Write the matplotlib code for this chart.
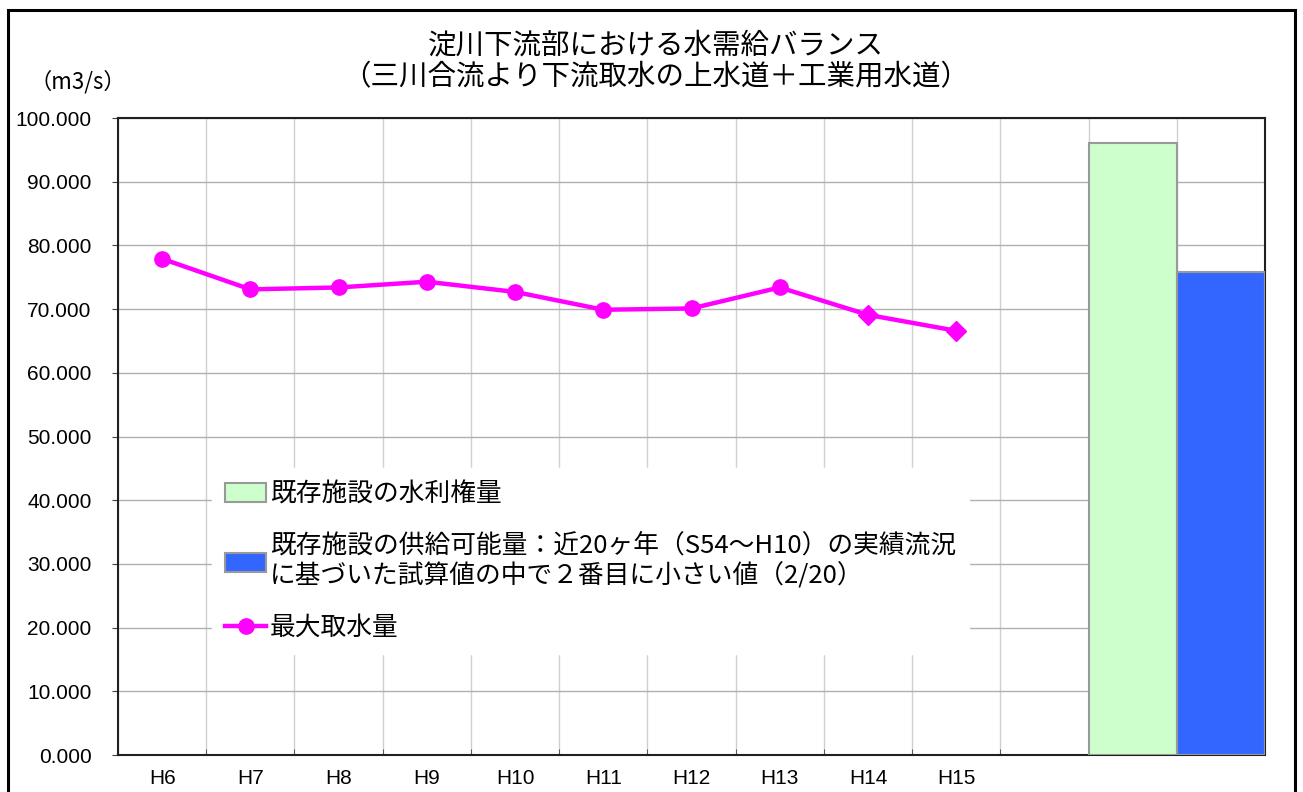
import matplotlib.pyplot as plt
from matplotlib.patches import Rectangle, Patch
from matplotlib.lines import Line2D
import numpy as np

plt.rcParams['font.family'] = ['Noto Sans CJK JP', 'DejaVu Sans']

# data
years = ['H6', 'H7', 'H8', 'H9', 'H10', 'H11', 'H12', 'H13', 'H14', 'H15']
max_intake = [77.9, 73.1, 73.4, 74.3, 72.7, 69.9, 70.1, 73.4, 69.1, 66.6]
water_right = 96.1      # 既存施設の水利権量
supply_capacity = 75.9  # 既存施設の供給可能量

n_slots = 13
right_slot = 11
supply_slot = 12

fig = plt.figure(figsize=(13.03, 7.92), dpi=100)
ax = fig.add_axes([0.0906, 0.0467, 0.8802, 0.8043])

# bars
ax.bar(right_slot, water_right, width=1.0, color='#CCFFCC', edgecolor='#999999', linewidth=1.5, zorder=3)
ax.bar(supply_slot, supply_capacity, width=1.0, color='#3366FF', edgecolor='#999999', linewidth=1.5, zorder=3)

# line
x = np.arange(len(years))
ax.plot(x, max_intake, color='#FF00FF', linewidth=3.2, zorder=4)
circ = x < 8
ax.plot(x[circ], np.array(max_intake)[circ], 'o', color='#FF00FF', markersize=11, zorder=5)
ax.plot(x[~circ], np.array(max_intake)[~circ], 'D', color='#FF00FF', markersize=10, zorder=5)

ax.set_xlim(-0.5, n_slots - 0.5)
ax.set_ylim(0, 100)

# ticks and grid
tick_font = ['Liberation Sans', 'DejaVu Sans']
ax.set_yticks(np.arange(0, 101, 10))
ax.set_yticklabels(['%.3f' % v for v in np.arange(0, 101, 10)], fontsize=15, family=tick_font)
ax.set_xticks(x)
ax.set_xticklabels(years, fontsize=15, family=tick_font)
ax.set_xticks(np.arange(n_slots + 1) - 0.5, minor=True)
ax.tick_params(axis='x', which='major', length=0, pad=10)
ax.tick_params(axis='x', which='minor', length=4, direction='in', color='#404040')
ax.tick_params(axis='y', length=4, direction='out', color='#404040', pad=15)
ax.grid(axis='y', color='#b0b0b0', linewidth=1.0, zorder=1)
ax.grid(axis='x', which='minor', color='#d0d0d0', linewidth=1.0, zorder=1)
ax.set_axisbelow(True)
for side in ['left', 'bottom', 'top', 'right']:
    ax.spines[side].set_color('#202020')
    ax.spines[side].set_linewidth(1.5)

# legend
handles = [
    Patch(facecolor='#CCFFCC', edgecolor='#999999', linewidth=1.5),
    Patch(facecolor='#3366FF', edgecolor='#999999', linewidth=1.5),
    Line2D([0], [0], color='#FF00FF', linewidth=3.2, marker='o', markersize=11),
]
labels = [
    '既存施設の水利権量',
    '既存施設の供給可能量：近20ヶ年（S54～H10）の実績流況\nに基づいた試算値の中で２番目に小さい値（2/20）',
    '最大取水量',
]
leg = ax.legend(handles, labels, loc='upper left', bbox_to_anchor=(0.082, 0.45),
                fontsize=18.5, frameon=True, fancybox=False, framealpha=1.0,
                edgecolor='white', facecolor='white', labelspacing=1.0,
                handlelength=1.6, handleheight=0.75, handletextpad=0.15,
                borderpad=0.5, borderaxespad=0)
leg.set_zorder(6)

# titles
fig.text(0.503, 0.943, '淀川下流部における水需給バランス', ha='center', va='center', fontsize=20.5)
fig.text(0.503, 0.903, '（三川合流より下流取水の上水道＋工業用水道）', ha='center', va='center', fontsize=20.5)
fig.text(0.060, 0.897, '（m3/s）', ha='center', va='center', fontsize=16)

# outer frame
fig.patches.append(Rectangle((0.006, -0.05), 0.988, 1.037, transform=fig.transFigure,
                             fill=False, edgecolor='black', linewidth=2.2))

fig.savefig('out.png', dpi=100)
